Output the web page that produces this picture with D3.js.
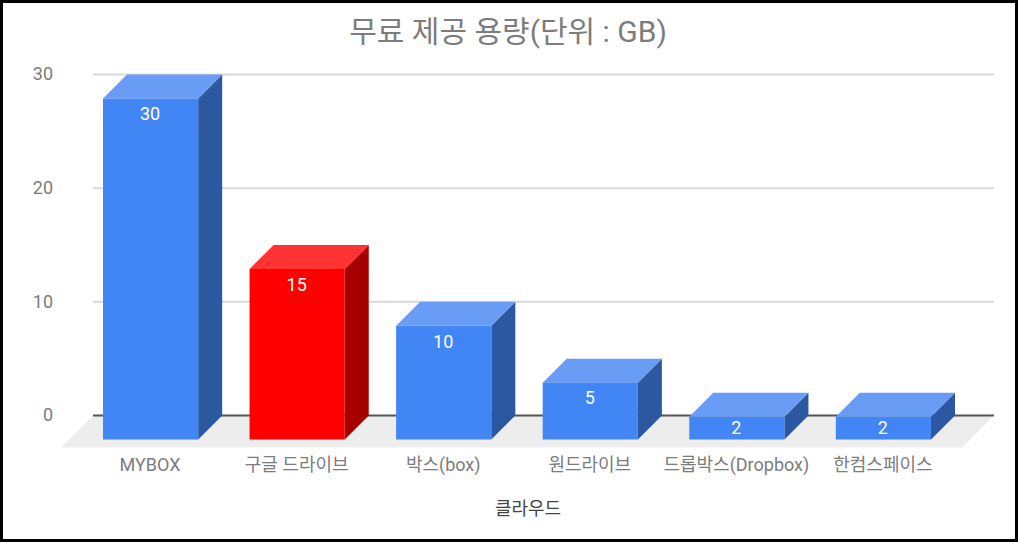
<!DOCTYPE html>
<html>
<head>
<meta charset="utf-8">
<script src="https://cdn.jsdelivr.net/npm/d3@7"></script>
<style>
  html, body { margin: 0; padding: 0; background: #fff; }
  svg { display: block; }
  text { font-family: Roboto, "Noto Sans CJK KR", sans-serif; }
</style>
</head>
<body>
<svg id="chart"></svg>
<script>
const categories = ["MYBOX", "구글 드라이브", "박스(box)", "원드라이브", "드롭박스(Dropbox)", "한컴스페이스"];
const values = [30, 15, 10, 5, 2, 2];
const barKinds = ["blue", "red", "blue", "blue", "blue", "blue"];
const yTicks = [0, 10, 20, 30];

const chartTitle = "무료 제공 용량(단위 : GB)";
const xTitle = "클라우드";

const width = 1018, height = 542;
const depth = 24;
const zeroY = 415.5, topY = 74.5;
const gridLeft = 93, gridRight = 994;

const colors = {
    blue: { front: "#4285f4", top: "#689cf5", side: "#2c57a1" },
    red: { front: "#ff0000", top: "#ff3333", side: "#a60000" }
};

const svg = d3.select("#chart").attr("width", width).attr("height", height);

svg.append("rect")
    .attr("x", 1.5).attr("y", 1.5)
    .attr("width", width - 3).attr("height", height - 3)
    .attr("fill", "#fff").attr("stroke", "#000").attr("stroke-width", 3);

// y scale is for the back wall, the bar fronts are shifted down by depth
const y = d3.scaleLinear().domain([0, 30]).range([zeroY, topY]);
const x = d3.scaleBand().domain(categories)
    .range([103, 931]).paddingInner(0.3506).paddingOuter(0);

// floor
svg.append("polygon")
    .attr("points", [[gridLeft, zeroY], [gridRight, zeroY], [gridRight - 32, zeroY + 32], [gridLeft - 32, zeroY + 32]].join(" "))
    .attr("fill", "#ededed");

// gridlines and y labels
svg.selectAll(".grid").data(yTicks).enter().append("line")
    .attr("class", "grid")
    .attr("x1", gridLeft).attr("x2", gridRight)
    .attr("y1", d => y(d)).attr("y2", d => y(d))
    .attr("stroke", d => d === 0 ? "#555" : "#d9d9d9")
    .attr("stroke-width", 2);

svg.selectAll(".ylabel").data(yTicks).enter().append("text")
    .attr("class", "ylabel")
    .attr("x", 53).attr("y", d => y(d) - 0.5)
    .attr("dy", ".35em")
    .attr("text-anchor", "end")
    .attr("font-size", 18)
    .attr("fill", "#7c7c7c")
    .text(d => d);

// bars
const bars = svg.selectAll(".bar").data(categories).enter().append("g").attr("class", "bar");

bars.append("polygon")
    .attr("fill", (d, i) => colors[barKinds[i]].side)
    .attr("points", (d, i) => {
        const r = x(d) + x.bandwidth(), t = y(values[i]), b = y(0);
        return [[r, t + depth], [r + depth, t], [r + depth, b], [r, b + depth]].join(" ");
    });

bars.append("polygon")
    .attr("fill", (d, i) => colors[barKinds[i]].top)
    .attr("points", (d, i) => {
        const l = x(d), r = l + x.bandwidth(), t = y(values[i]);
        return [[l, t + depth], [l + depth, t], [r + depth, t], [r, t + depth]].join(" ");
    });

bars.append("rect")
    .attr("x", d => x(d))
    .attr("y", (d, i) => y(values[i]) + depth)
    .attr("width", x.bandwidth())
    .attr("height", (d, i) => y(0) - y(values[i]))
    .attr("fill", (d, i) => colors[barKinds[i]].front);

// value sits near the top of the face, or in the middle when the bar is short
bars.append("text")
    .attr("x", d => x(d) + x.bandwidth() / 2 - 0.5)
    .attr("y", (d, i) => y(values[i]) + depth + Math.min(15.5, (y(0) - y(values[i])) / 2))
    .attr("dy", ".35em")
    .attr("text-anchor", "middle")
    .attr("font-size", 18)
    .attr("fill", "#fff")
    .text((d, i) => values[i]);

// category labels
svg.selectAll(".xlabel").data(categories).enter().append("text")
    .attr("class", "xlabel")
    .attr("x", d => x(d) + x.bandwidth() / 2 - 0.5)
    .attr("y", 465)
    .attr("dy", ".35em")
    .attr("text-anchor", "middle")
    .attr("font-size", 18)
    .attr("fill", "#7c7c7c")
    .text(d => d);

svg.append("text")
    .attr("x", 508).attr("y", 31)
    .attr("dy", ".35em")
    .attr("text-anchor", "middle")
    .attr("font-size", 30)
    .attr("fill", "#7c7c7c")
    .text(chartTitle);

svg.append("text")
    .attr("x", 528).attr("y", 509)
    .attr("dy", ".35em")
    .attr("text-anchor", "middle")
    .attr("font-size", 18)
    .attr("fill", "#444")
    .text(xTitle);
</script>
</body>
</html>
